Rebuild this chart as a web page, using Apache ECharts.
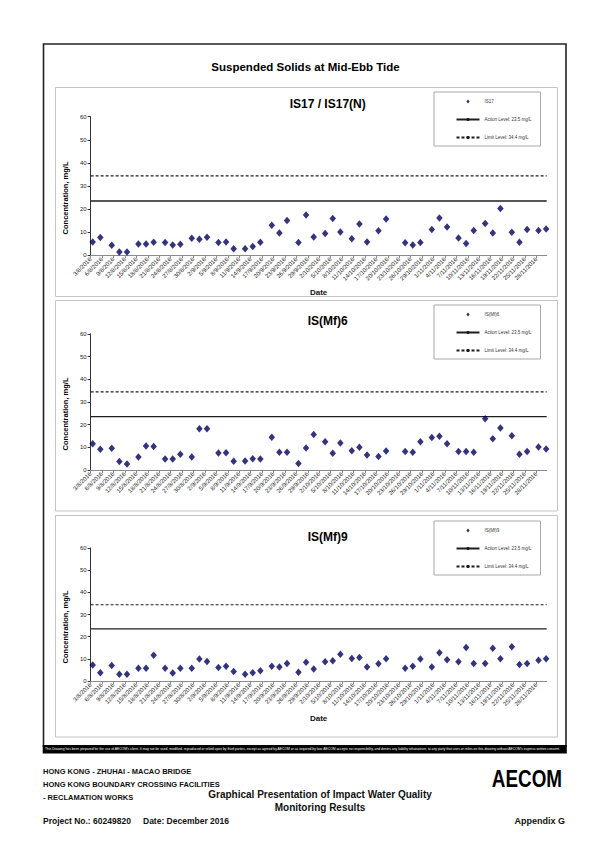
<!DOCTYPE html>
<html>
<head>
<meta charset="utf-8">
<script src="https://cdn.jsdelivr.net/npm/echarts@6.0.0/dist/echarts.min.js"></script>
<style>
  html, body { margin: 0; padding: 0; background: #fff; }
  #chart { width: 611px; height: 865px; }
</style>
</head>
<body>
<div id="chart"></div>
<script>
// ---------------- DATA ----------------
const sampleDates = [
  '3/8/2016','5/8/2016','8/8/2016','10/8/2016','12/8/2016','15/8/2016','17/8/2016','19/8/2016',
  '22/8/2016','24/8/2016','26/8/2016','29/8/2016','31/8/2016','2/9/2016','5/9/2016','7/9/2016',
  '9/9/2016','12/9/2016','14/9/2016','16/9/2016','19/9/2016','21/9/2016','23/9/2016','26/9/2016',
  '28/9/2016','30/9/2016','3/10/2016','5/10/2016','7/10/2016','10/10/2016','12/10/2016','14/10/2016',
  '17/10/2016','19/10/2016','24/10/2016','26/10/2016','28/10/2016','31/10/2016','2/11/2016','4/11/2016',
  '7/11/2016','9/11/2016','11/11/2016','14/11/2016','16/11/2016','18/11/2016','21/11/2016','23/11/2016',
  '25/11/2016','28/11/2016','30/11/2016'
];
const is17Values = [
  5.8, 7.7, 4.3, 1.4, 1.4, 4.9, 4.9, 5.7, 5.5, 4.5, 4.8, 7.4, 7.0, 7.8, 5.5, 5.8,
  2.8, 2.8, 3.8, 5.7, 13.0, 9.6, 15.1, 5.5, 17.4, 7.9,
  9.4, 15.9, 10.1, 7.2, 13.6, 5.8, 10.6, 15.7, 5.4, 4.5, 5.5, 11.2, 16.2, 12.3,
  7.5, 5.1, 10.7, 13.8, 9.7, 20.3, 10.0, 5.7, 11.2, 10.7, 11.4
];
const mf6Values = [
  11.6, 9.1, 9.6, 3.7, 2.6, 5.7, 10.6, 10.4, 4.9, 4.9, 6.9, 5.7, 18.2, 18.2, 7.5, 7.6,
  3.8, 4.0, 5.0, 4.9, 14.4, 7.8, 7.8, 2.9, 9.7, 15.6,
  12.4, 7.4, 11.9, 8.5, 10.0, 6.6, 5.9, 8.4, 8.1, 7.8, 12.5, 14.3, 14.9, 11.6,
  8.1, 8.1, 7.8, 22.6, 13.8, 18.5, 15.1, 6.9, 8.1, 10.1, 9.3
];
const mf9Values = [
  7.2, 3.7, 7.0, 3.0, 3.0, 5.7, 5.8, 11.6, 5.8, 3.6, 5.7, 5.7, 9.9, 8.8, 6.1, 6.6,
  4.3, 3.0, 3.7, 4.6, 6.6, 6.3, 7.9, 4.0, 8.5, 5.4,
  8.7, 9.1, 12.1, 10.1, 10.6, 6.3, 7.8, 10.0, 5.7, 6.7, 9.9, 6.3, 12.8, 9.6,
  8.7, 15.1, 7.9, 7.9, 14.8, 10.0, 15.4, 7.5, 7.9, 9.4, 10.0
];
const xTickLabels = [
  '3/8/2016','6/8/2016','9/8/2016','12/8/2016','15/8/2016','18/8/2016','21/8/2016','24/8/2016',
  '27/8/2016','30/8/2016','2/9/2016','5/9/2016','8/9/2016','11/9/2016','14/9/2016','17/9/2016',
  '20/9/2016','23/9/2016','26/9/2016','29/9/2016','2/10/2016','5/10/2016','8/10/2016','11/10/2016',
  '14/10/2016','17/10/2016','20/10/2016','23/10/2016','26/10/2016','29/10/2016','1/11/2016','4/11/2016',
  '7/11/2016','10/11/2016','13/11/2016','16/11/2016','19/11/2016','22/11/2016','25/11/2016','28/11/2016'
];
const yTickValues = [0, 10, 20, 30, 40, 50, 60];
const stationNames = ['IS17', 'IS(Mf)6', 'IS(Mf)9'];
const panelTitles = ['IS17 / IS17(N)', 'IS(Mf)6', 'IS(Mf)9'];
const actionLevel = 23.5;
const limitLevel = 34.4;
const actionName = 'Action Level: 23.5 mg/L';
const limitName = 'Limit Level: 34.4 mg/L';

// ---------------- HELPERS ----------------
const FONT = 'Liberation Sans, Arial, Helvetica, sans-serif';
const AXIS_START = '3/8/2016';
const TICK_STEP = 3;          // days between date ticks
const SAMPLE_TIME = 0.55;     // fraction of the day at which samples were taken
const X_MAX = 119.7;          // axis end (days after start)

function dayNumber(s) {
  const p = s.split('/').map(Number);
  return Date.UTC(p[2], p[1] - 1, p[0]) / 86400000;
}
const startDay = dayNumber(AXIS_START);
function dayOffset(s) { return dayNumber(s) - startDay; }
const tickValues = xTickLabels.map(dayOffset);
const valueSets = [is17Values, mf6Values, mf9Values];

// ---------------- LAYOUT ----------------
const PLOT_LEFT = 90.6, PLOT_WIDTH = 456.1;
const LINE_COLOR = '#1e1e1e';
// small centred diamond inside the 23x4 legend icon box
const LEGEND_DIAMOND = 'path://M0,0M23,4M11.5,0L13.2,2L11.5,4L9.8,2Z';
const panels = [
  { top: 116.7, height: 138.6, box: [55.5, 87.5, 502, 209], title: 104.4, legendTop: 92, ytitle: 198, date: true },
  { top: 333.8, height: 136.2, box: [55.5, 300.5, 502, 210.5], title: 320.5, legendTop: 305, ytitle: 414, date: false },
  { top: 548.0, height: 133.0, box: [55.5, 515.5, 502, 221.5], title: 537, legendTop: 521, ytitle: 627, date: true }
];

const grids = [], xAxes = [], yAxes = [], series = [], legends = [], graphics = [];

panels.forEach((p, i) => {
  grids.push({ left: PLOT_LEFT, top: p.top, width: PLOT_WIDTH, height: p.height, containLabel: false, outerBoundsMode: 'none' });
  xAxes.push({
    type: 'value', gridIndex: i, min: 0, max: X_MAX, interval: TICK_STEP,
    splitLine: { show: false },
    axisLine: { show: true, onZero: false, lineStyle: { color: '#8a8a8a', width: 1 } },
    axisTick: { show: true, length: 3, customValues: tickValues, lineStyle: { color: '#8a8a8a' } },
    axisLabel: {
      rotate: 45, fontSize: 6, color: '#222', margin: 3, fontFamily: FONT,
      customValues: tickValues,
      formatter: (v) => { const k = tickValues.indexOf(v); return k >= 0 ? xTickLabels[k] : ''; }
    },
    name: p.date ? 'Date' : '', nameLocation: 'middle', nameGap: 33,
    nameTextStyle: { fontSize: 8, fontWeight: 'bold', color: '#111', fontFamily: FONT }
  });
  yAxes.push({
    type: 'value', gridIndex: i, min: yTickValues[0], max: yTickValues[yTickValues.length - 1], interval: 10,
    splitLine: { show: false },
    axisLine: { show: true, lineStyle: { color: '#333', width: 1 } },
    axisTick: { show: true, length: 3, lineStyle: { color: '#333' } },
    axisLabel: { fontSize: 6, color: '#222', margin: 4, fontFamily: FONT }
  });
  const vals = valueSets[i];
  series.push({
    name: stationNames[i], type: 'scatter', xAxisIndex: i, yAxisIndex: i,
    symbol: 'diamond', symbolSize: [6.5, 7.5],
    itemStyle: { color: '#00005e' },
    data: sampleDates.map((d, k) => [dayOffset(d) + SAMPLE_TIME, vals[k]]),
    z: 5
  });
  series.push({
    name: actionName, type: 'line', xAxisIndex: i, yAxisIndex: i, symbol: 'none', silent: true,
    itemStyle: { color: LINE_COLOR },
    lineStyle: { color: LINE_COLOR, width: 1.3, type: 'solid' },
    data: [[0, actionLevel], [X_MAX, actionLevel]]
  });
  series.push({
    name: limitName, type: 'line', xAxisIndex: i, yAxisIndex: i, symbol: 'none', silent: true,
    itemStyle: { color: LINE_COLOR },
    lineStyle: { color: LINE_COLOR, width: 1.2, type: [3, 2] },
    data: [[0, limitLevel], [X_MAX, limitLevel]]
  });
  legends.push({
    data: [
      { name: stationNames[i], icon: LEGEND_DIAMOND },
      { name: actionName },
      { name: limitName }
    ],
    orient: 'vertical', left: 434, top: p.legendTop,
    padding: [7, 9, 6, 21.5], itemGap: 13, itemWidth: 23, itemHeight: 4,
    backgroundColor: '#fff', borderColor: '#a8a8a8', borderWidth: 1,
    selectedMode: false,
    textStyle: { fontSize: 4.5, color: '#333', fontFamily: FONT }
  });
  // panel box
  graphics.push({ type: 'rect', shape: { x: p.box[0], y: p.box[1], width: p.box[2], height: p.box[3] },
    style: { fill: 'none', stroke: '#c4c4c4', lineWidth: 1 }, z: -1 });
  graphics.push({ type: 'text', x: 327.7, y: p.title,
    style: { text: panelTitles[i], fontSize: 12, fontWeight: 'bold', fontFamily: FONT, fill: '#000', align: 'center', verticalAlign: 'middle' } });
  graphics.push({ type: 'text', x: 65.5, y: p.ytitle, rotation: Math.PI / 2,
    style: { text: 'Concentration, mg/L', fontSize: 7.5, fontWeight: 'bold', fontFamily: FONT, fill: '#000', align: 'center', verticalAlign: 'middle' } });
});

// outer frame, main title and footer
graphics.push({ type: 'rect', shape: { x: 43.5, y: 44, width: 522.5, height: 702 },
  style: { fill: 'none', stroke: '#222', lineWidth: 1.6 }, z: -1 });
graphics.push({ type: 'text', x: 305.5, y: 67,
  style: { text: 'Suspended Solids at Mid-Ebb Tide', fontSize: 11.5, fontWeight: 'bold', fontFamily: FONT, fill: '#000', align: 'center', verticalAlign: 'middle' } });
graphics.push({ type: 'rect', shape: { x: 42.7, y: 745, width: 524.1, height: 8.5 }, style: { fill: '#000' } });
graphics.push({ type: 'text', x: 45, y: 749.3,
  style: { text: "This Drawing has been prepared for the use of AECOM's client. It may not be used, modified, reproduced or relied upon by third parties, except as agreed by AECOM or as required by law. AECOM accepts no responsibility, and denies any liability whatsoever, to any party that uses or relies on this drawing without AECOM's express written consent.",
    fontSize: 3.35, fontFamily: FONT, fill: '#fff', align: 'left', verticalAlign: 'middle' } });
const footLeft = [['HONG KONG - ZHUHAI - MACAO BRIDGE', 771], ['HONG KONG BOUNDARY CROSSING FACILITIES', 784], ['- RECLAMATION WORKS', 797]];
footLeft.forEach(f => graphics.push({ type: 'text', x: 43, y: f[1],
  style: { text: f[0], fontSize: 7.5, fontWeight: 'bold', fontFamily: FONT, fill: '#111', align: 'left', verticalAlign: 'middle' } }));
graphics.push({ type: 'text', x: 320, y: 794,
  style: { text: 'Graphical Presentation of Impact Water Quality', fontSize: 10, fontWeight: 'bold', fontFamily: FONT, fill: '#111', align: 'center', verticalAlign: 'middle' } });
graphics.push({ type: 'text', x: 320, y: 807,
  style: { text: 'Monitoring Results', fontSize: 10, fontWeight: 'bold', fontFamily: FONT, fill: '#111', align: 'center', verticalAlign: 'middle' } });
graphics.push({ type: 'text', x: 43, y: 821,
  style: { text: 'Project No.: 60249820', fontSize: 8.5, fontWeight: 'bold', fontFamily: FONT, fill: '#111', align: 'left', verticalAlign: 'middle' } });
graphics.push({ type: 'text', x: 143, y: 821,
  style: { text: 'Date: December 2016', fontSize: 8.5, fontWeight: 'bold', fontFamily: FONT, fill: '#111', align: 'left', verticalAlign: 'middle' } });
graphics.push({ type: 'text', x: 565, y: 821,
  style: { text: 'Appendix G', fontSize: 9, fontWeight: 'bold', fontFamily: FONT, fill: '#111', align: 'right', verticalAlign: 'middle' } });
graphics.push({ type: 'text', x: 562, y: 779, scaleX: 0.82,
  style: { text: 'AECOM', fontSize: 23, fontWeight: 900, fontFamily: FONT, fill: '#000', align: 'right', verticalAlign: 'middle' } });

const chart = echarts.init(document.getElementById('chart'), null, { renderer: 'svg', width: 611, height: 865 });
chart.setOption({
  backgroundColor: '#fff',
  animation: false,
  textStyle: { fontFamily: FONT },
  grid: grids, xAxis: xAxes, yAxis: yAxes, series: series, legend: legends,
  graphic: { elements: graphics }
});
</script>
</body>
</html>
